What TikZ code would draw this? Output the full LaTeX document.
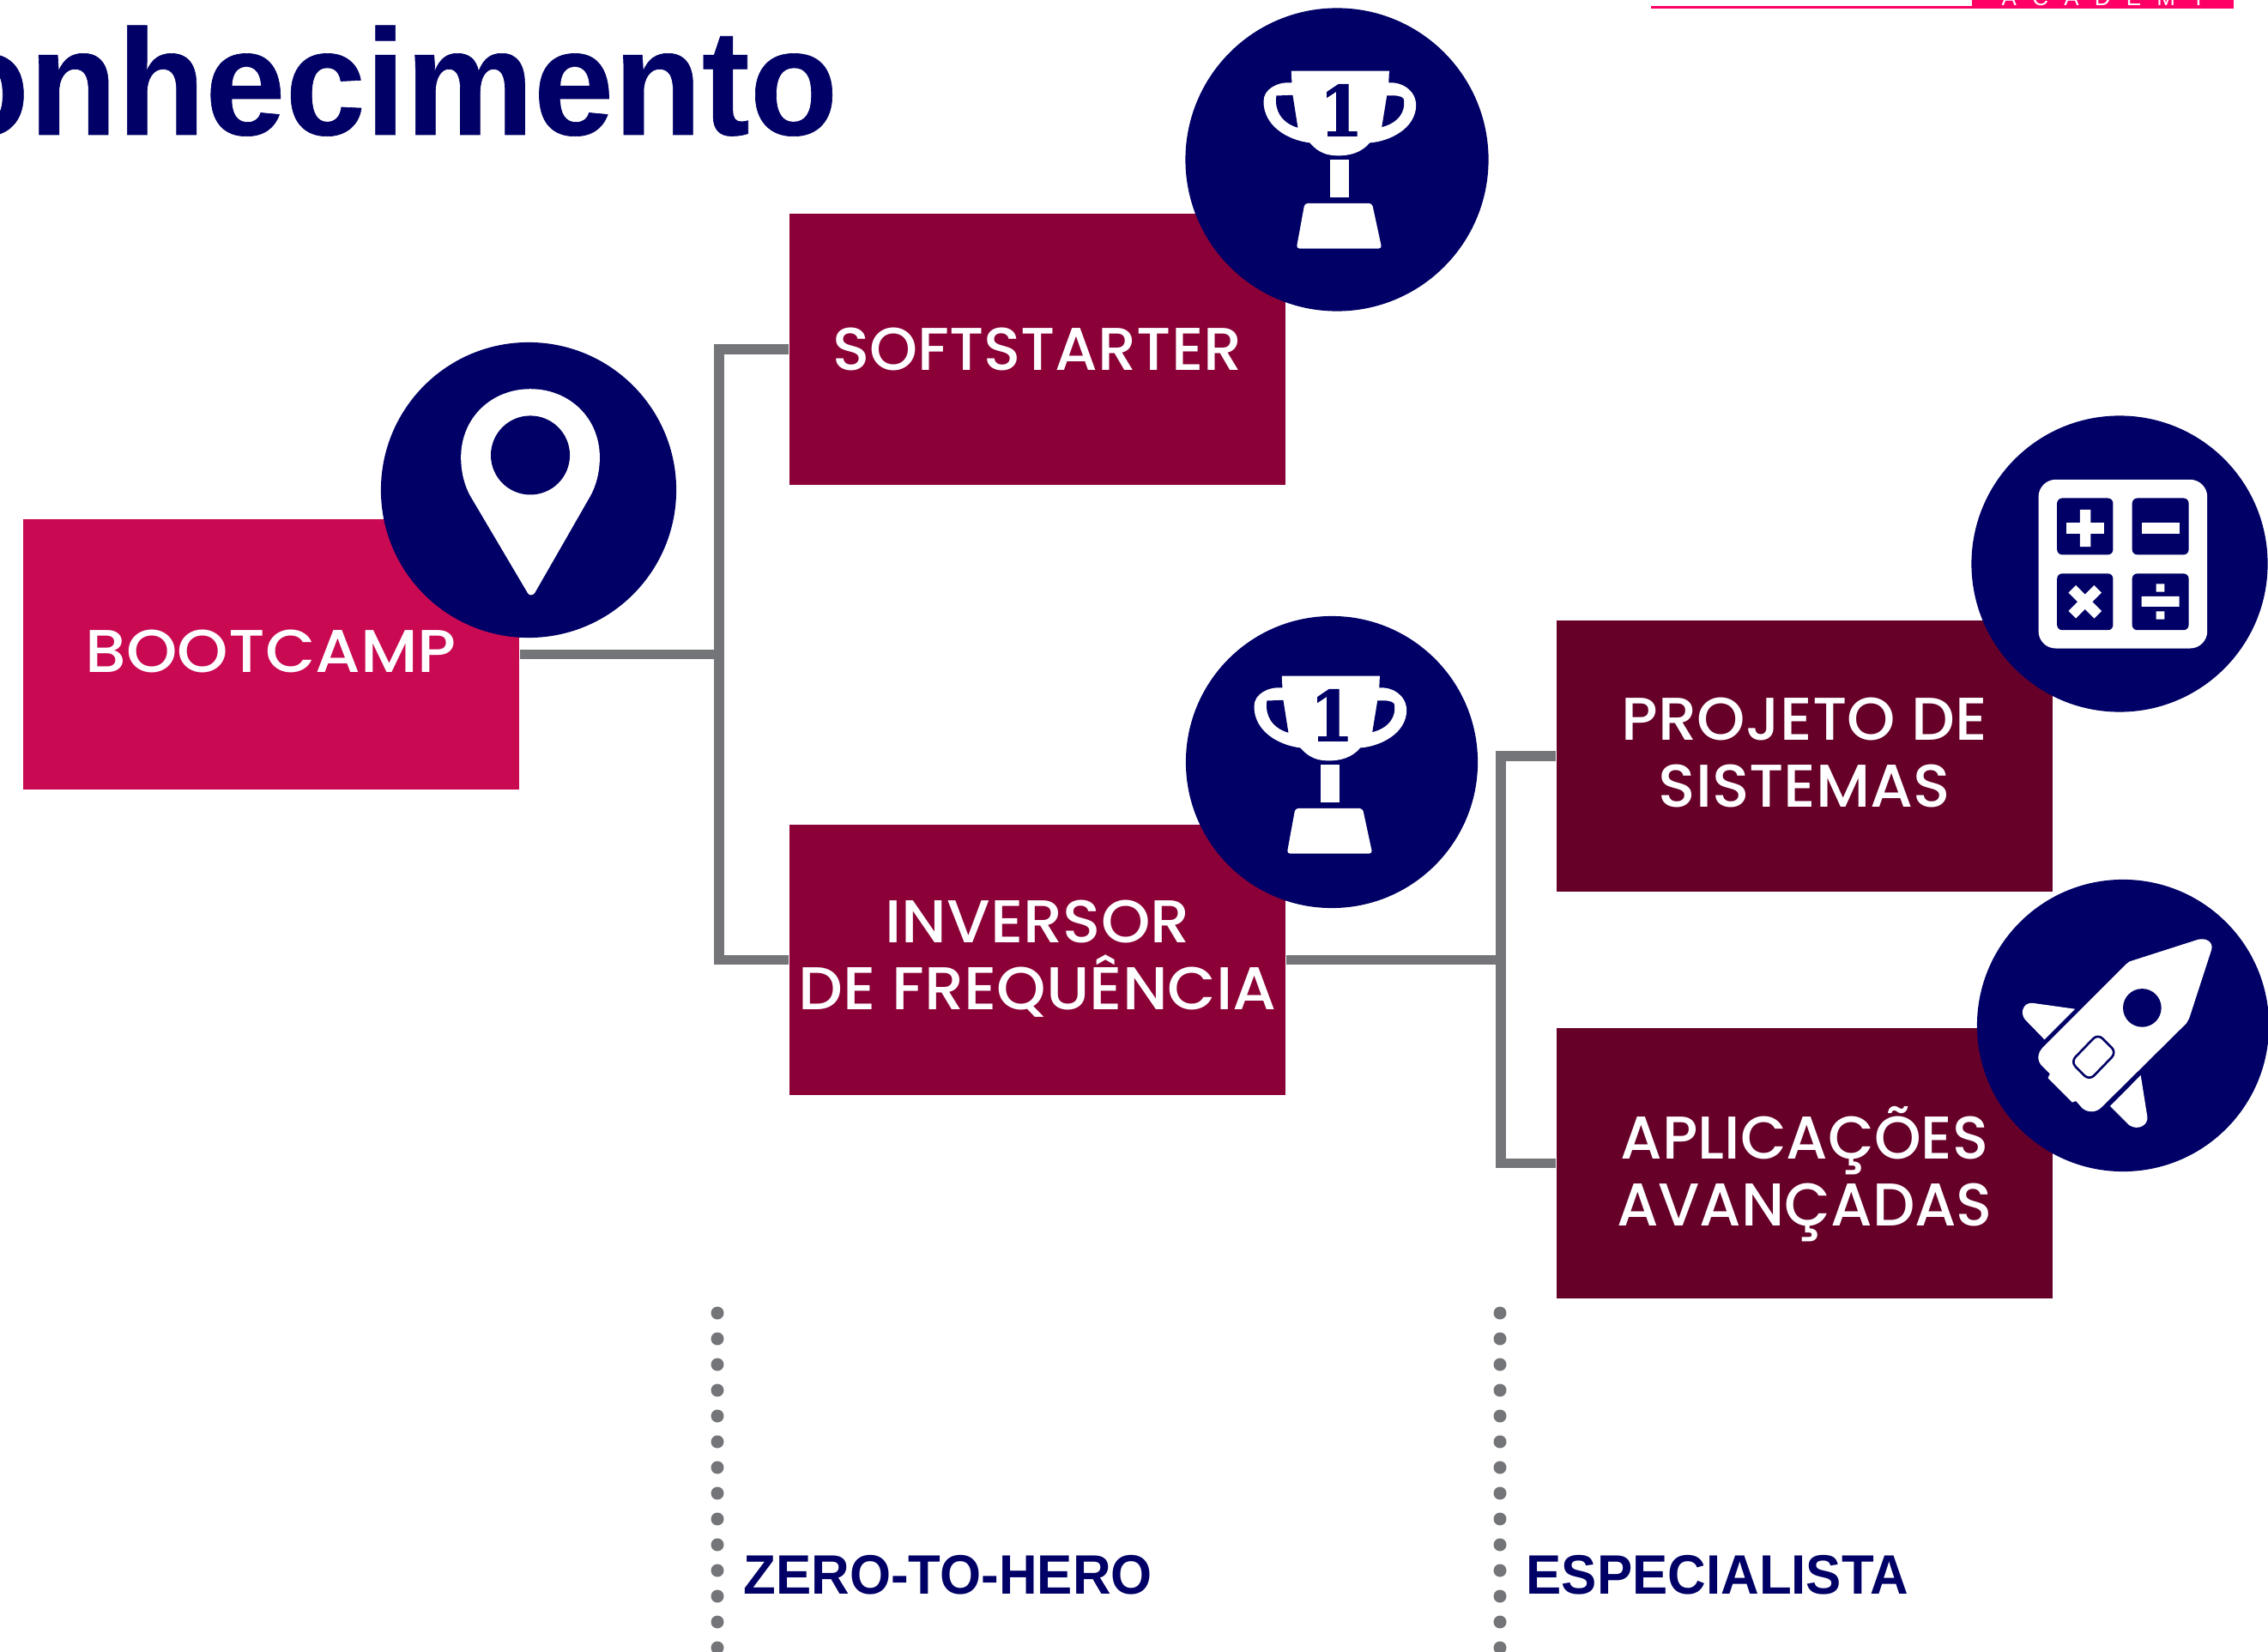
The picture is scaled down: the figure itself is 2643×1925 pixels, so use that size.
\documentclass[tikz,border=0pt]{standalone}
\usepackage{fontspec}
\newfontfamily\boxA[FakeStretch=1.076]{Poppins Medium}
\newfontfamily\boxB[FakeStretch=1.015]{Poppins Medium}
\newfontfamily\boxC[FakeStretch=1.04]{Poppins Medium}
\newfontfamily\boxD[FakeStretch=1.02]{Poppins Medium}
\newfontfamily\boxE[FakeStretch=0.99]{Poppins Medium}
\newcommand{\stagesize}{\fontsize{20}{22.2}\selectfont}
\newfontfamily\headfont[FakeStretch=0.955]{Liberation Sans}
\newfontfamily\titlefont[FakeStretch=0.955,FakeBold=0.35]{Liberation Sans Bold}
\newfontfamily\acadfont[LetterSpace=70]{Liberation Sans}
\newfontfamily\digitfont[FakeStretch=0.9,FakeBold=1.2]{DejaVu Serif Bold}
\definecolor{navy}{HTML}{000066}
\definecolor{boot}{HTML}{C90A52}
\definecolor{midred}{HTML}{8B0037}
\definecolor{darkred}{HTML}{660029}
\definecolor{linegray}{HTML}{747578}
\definecolor{pinkline}{HTML}{FF0066}
\tikzset{
  x=0.01cm,y=-0.01cm,
  stage/.style={minimum width=5.78cm,minimum height=3.15cm,inner sep=0pt,text=white,align=center,text depth=0pt},
  link/.style={draw=linegray,line width=3.2pt,line join=miter},
  badge/.style={circle,fill=navy,inner sep=0pt},
  icon/.style={x=0.003333cm,y=-0.003333cm},
  tagtext/.style={text=navy,inner sep=0pt,anchor=base west,font=\headfont\bfseries\fontsize{18.4}{20}\selectfont}
}
\newcommand{\trophyicon}[2]{%
\begin{scope}[shift={(#1,#2)},icon]
 \fill[white] (465,248) -- (808,248) -- (806,290) .. controls (850,285) and (902,315) .. (902,370)
   .. controls (900,450) and (810,495) .. (740,500) .. controls (710,535) and (670,545) .. (630,545)
   .. controls (590,545) and (560,535) .. (530,500) .. controls (450,490) and (368,440) .. (368,355)
   .. controls (368,310) and (420,285) .. (467,290) -- cycle;
 \fill[navy] (413,335) -- (470,333) -- (488,447) .. controls (430,430) and (405,385) .. (413,335) -- cycle;
 \fill[navy] (858,345) .. controls (850,335) and (825,333) .. (800,335) -- (782,445) .. controls (840,430) and (868,390) .. (858,345) -- cycle;
 \fill[white] (602,560) rectangle (668,692);
 \fill[white,rounded corners=1pt] (512,712) -- (748,712) -- (782,870) -- (483,870) -- cycle;
 \node[text=navy,inner sep=0pt,font=\digitfont\fontsize{23}{23}\selectfont] at (640,386) {1};
\end{scope}}
\begin{document}
\begin{tikzpicture}
\useasboundingbox (0,0) rectangle (2643,1925);
% header rule
\fill[pinkline] (1924,7) rectangle (2603,10);
\fill[pinkline] (2298,0) rectangle (2603,10);
\node[anchor=base west,inner sep=0pt,text=white,font=\acadfont\fontsize{7.4}{8}\selectfont] (academy) at (2332,7) {ACADEMY};
% title
\node[anchor=base east,inner sep=0pt,text=navy,font=\titlefont\fontsize{50}{50}\selectfont] (title) at (977,157) {onhecimento};
% junctions
\coordinate (j1) at (838,762.5);
\coordinate (j2) at (1749,1118.5);
% boxes
\node[stage,fill=boot,text height=0.42cm,font=\boxA\stagesize] (bootcamp) at (316,762.5) {BOOTCAMP};
\node[stage,fill=midred,text height=0.48cm,font=\boxB\stagesize] (soft) at (1209,407) {SOFTSTARTER};
\node[stage,fill=midred,text height=1.16cm,font=\boxC\stagesize] (inv) at (1209,1118.5) {INVERSOR\\DE FREQUÊNCIA};
\node[stage,fill=darkred,text height=1.19cm,font=\boxD\stagesize] (proj) at (2103,881) {PROJETO DE\\SISTEMAS};
\node[stage,fill=darkred,text height=1.46cm,font=\boxE\stagesize] (aplic) at (2103,1355.5) {APLICAÇÕES\\AVANÇADAS};
% connectors
\draw[link] (bootcamp.east) -- (j1);
\draw[link] (soft.west) -| (j1) |- (inv.west);
\draw[link] (inv.east) -- (j2);
\draw[link] (proj.west) -| (j2) |- (aplic.west);
% badges
\node[badge,minimum size=3.44cm] (b1) at (616,571) {};
\node[badge,minimum size=3.53cm] (b2) at (1558,186) {};
\node[badge,minimum size=3.4cm] (b3) at (1552,888) {};
\node[badge,minimum size=3.45cm] (b4) at (2470,657) {};
\node[badge,minimum size=3.4cm] (b5) at (2474,1195) {};
% pin
\begin{scope}[shift={(430,390)},icon]
 \fill[white] (556,905) -- (355,565) .. controls (330,520) and (322,470) .. (322,430)
   .. controls (322,290) and (430,190) .. (565,190) .. controls (700,190) and (808,290) .. (808,430)
   .. controls (808,480) and (795,530) .. (775,565) -- (580,905) .. controls (572,914) and (562,914) .. (556,905) -- cycle;
 \fill[navy] (565,422) circle[radius=0.46cm];
\end{scope}
% trophies
\trophyicon{1350}{0}
\trophyicon{1339}{705}
% calculator
\begin{scope}[shift={(2280,470)},icon]
 \fill[white,rounded corners=5.7pt] (287,267) rectangle (878,858);
 \fill[navy,rounded corners=1.7pt] (352,332) rectangle (548,530);
 \fill[navy,rounded corners=1.7pt] (615,332) rectangle (813,530);
 \fill[navy,rounded corners=1.7pt] (352,596) rectangle (548,794);
 \fill[navy,rounded corners=1.7pt] (615,596) rectangle (813,794);
 \fill[white] (385,418) rectangle (516,456) (432,372) rectangle (470,502);
 \fill[white] (648,418) rectangle (780,456);
 \fill[white] (648,676) rectangle (780,712) (699,632) rectangle (728,660) (699,728) rectangle (728,756);
 \fill[white] (392,663) -- (418,637) -- (450,669) -- (482,637) -- (508,663) -- (476,695) -- (508,727) -- (482,753) -- (450,721) -- (418,753) -- (392,727) -- (424,695) -- cycle;
\end{scope}
% rocket
\begin{scope}[shift={(2280,1010)},icon]
 \fill[white] (605,332) -- (845,255) .. controls (875,247) and (900,265) .. (893,290) -- (815,530) -- (805,548)
   -- (510,840) .. controls (490,862) and (460,862) .. (440,845) -- (418,820) -- (405,825) -- (320,740) -- (327,725) -- (297,695)
   .. controls (280,675) and (285,650) .. (300,635) -- (595,340) -- cycle;
 \fill[navy] (650,494) circle[radius=0.223cm];
 \draw[navy,line width=0.75pt,rounded corners=2.2pt] (495,585) -- (560,650) -- (465,748) -- (400,683) -- cycle;
 \fill[white] (415,498) -- (265,477) .. controls (235,475) and (220,510) .. (240,535) -- (308,605) -- cycle;
 \fill[white] (645,730) -- (668,875) .. controls (672,905) and (635,925) .. (605,905) -- (538,838) -- cycle;
\end{scope}
% dotted rules
\foreach \k in {0,...,13} {
  \fill[linegray] (836,1530+30*\k) circle[radius=0.075cm];
  \fill[linegray] (1748,1530+30*\k) circle[radius=0.075cm];
}
\node[tagtext] (tag1) at (866,1857) {ZERO-TO-HERO};
\node[tagtext] (tag2) at (1778,1857) {ESPECIALISTA};
\end{tikzpicture}
\end{document}
